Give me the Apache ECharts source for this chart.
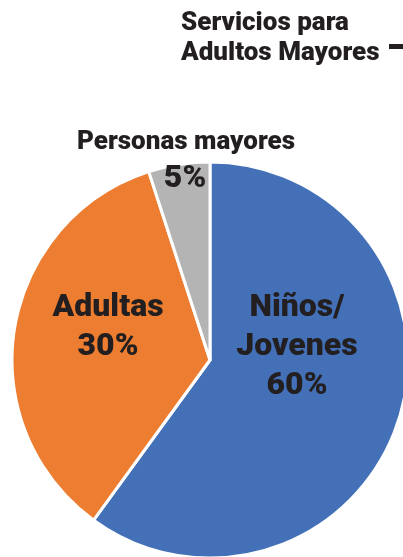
<!DOCTYPE html>
<html>
<head>
<meta charset="utf-8">
<script src="https://cdn.jsdelivr.net/npm/echarts@6/dist/echarts.min.js"></script>
<style>
  html, body { margin: 0; padding: 0; background: #fff; }
  #chart { width: 403px; height: 557px; }
</style>
</head>
<body>
<div id="chart"></div>
<script>
// data (slice angles), label text as printed
const categories = ['Niños/\nJovenes', 'Adultas', 'Personas mayores'];
const values = [60, 35, 5];
const labelTexts = ['60%', '30%', '5%'];
const colors = ['#4470B8', '#EC7D31', '#B4B4B4'];

const myChart = echarts.init(document.getElementById('chart'));

const font = 'Roboto, "Noto Sans", sans-serif';
const ink = '#231f20';

const option = {
  animation: false,
  graphic: [
    {
      type: 'text', left: 181, top: 8, z: 100,
      style: { text: 'Servicios para\nAdultos Mayores', font: '900 26px ' + font, fill: ink, lineHeight: 30 }
    },
    { type: 'rect', z: 100, shape: { x: 389, y: 44, width: 14, height: 5 }, style: { fill: ink } },
    {
      type: 'text', x: 186, y: 142, z: 100,
      style: { text: categories[2], font: '900 26px ' + font, fill: ink, align: 'center', verticalAlign: 'middle' }
    },
    {
      type: 'text', x: 185, y: 179, z: 100,
      style: { text: labelTexts[2], font: '900 32px ' + font, fill: ink, align: 'center', verticalAlign: 'middle' }
    },
    {
      type: 'text', x: 108, y: 327, z: 100,
      style: { text: categories[1] + '\n' + labelTexts[1], font: '900 32px ' + font, fill: ink, align: 'center', verticalAlign: 'middle', lineHeight: 39 }
    },
    {
      type: 'text', x: 297, y: 347, z: 100,
      style: { text: categories[0] + '\n' + labelTexts[0], font: '900 32px ' + font, fill: ink, align: 'center', verticalAlign: 'middle', lineHeight: 39 }
    }
  ],
  series: [
    {
      type: 'pie',
      center: [210, 360],
      radius: [0, 198],
      startAngle: 90,
      clockwise: true,
      label: { show: false },
      labelLine: { show: false },
      itemStyle: { borderColor: '#fff', borderWidth: 3 },
      data: categories.map((c, i) => ({
        name: c,
        value: values[i],
        itemStyle: { color: colors[i] }
      }))
    }
  ]
};

myChart.setOption(option);

window.addEventListener('resize', function () {
  myChart.resize();
});
</script>
</body>
</html>
